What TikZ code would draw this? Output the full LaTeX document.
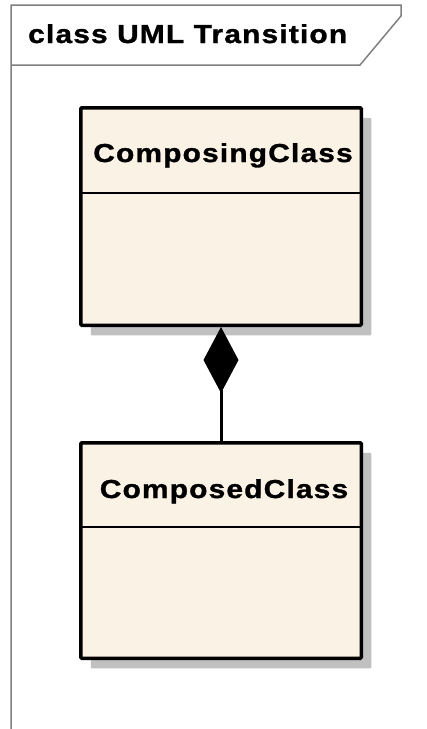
\documentclass[tikz,border=0pt]{standalone}
\usepackage{fontspec}
\setmainfont{Liberation Sans}
\newfontfamily\umlfont[FakeStretch=1.15,LetterSpace=4.5,FakeBold=1.2]{Liberation Sans}
\usetikzlibrary{arrows.meta,shadows}
\definecolor{classfill}{RGB}{251,242,230}
\definecolor{framegray}{RGB}{128,128,128}
\definecolor{shadowgray}{RGB}{192,192,192}
\begin{document}
\begin{tikzpicture}[x=1pt,y=-1pt,
  classbox/.style={draw=black, line width=3.5pt, fill=classfill, minimum width=280.5pt,
    inner sep=0pt, rounded corners=1pt,
    drop shadow={shadow xshift=10pt, shadow yshift=-10pt, fill=shadowgray, opacity=1}},
  classname/.style={font=\umlfont\bfseries\fontsize{26}{30}\selectfont, anchor=base, inner sep=0pt},
  titletext/.style={font=\umlfont\bfseries\fontsize{26}{30}\selectfont, anchor=base west, inner sep=0pt},
  frameline/.style={draw=framegray, line width=1.5pt},
  divider/.style={draw=black, line width=2.5pt},
  composition/.style={draw=black, line width=3pt, {Diamond[length=66pt,width=35pt]}-}
]
\useasboundingbox (0,0) rectangle (427,729);
% frame
\draw[frameline] (11,729) -- (11,5) -- (401,5) -- (401,16) -- (360,65) -- (11,65);
\node[titletext] (title) at (28,43) {class UML Transition};
% classes
\node[classbox, minimum height=217.5pt] (c1) at (221,216.5) {};
\node[classbox, minimum height=215.5pt] (c2) at (221,550.5) {};
\node[classname] (n1) at (223,162) {ComposingClass};
\node[classname] (n2) at (224,498) {ComposedClass};
\draw[divider] (c1.west |- 0,193) -- (c1.east |- 0,193);
\draw[divider] (c2.west |- 0,527) -- (c2.east |- 0,527);
% composition
\draw[composition] (c1.south) -- (c2.north);
\end{tikzpicture}
\end{document}
